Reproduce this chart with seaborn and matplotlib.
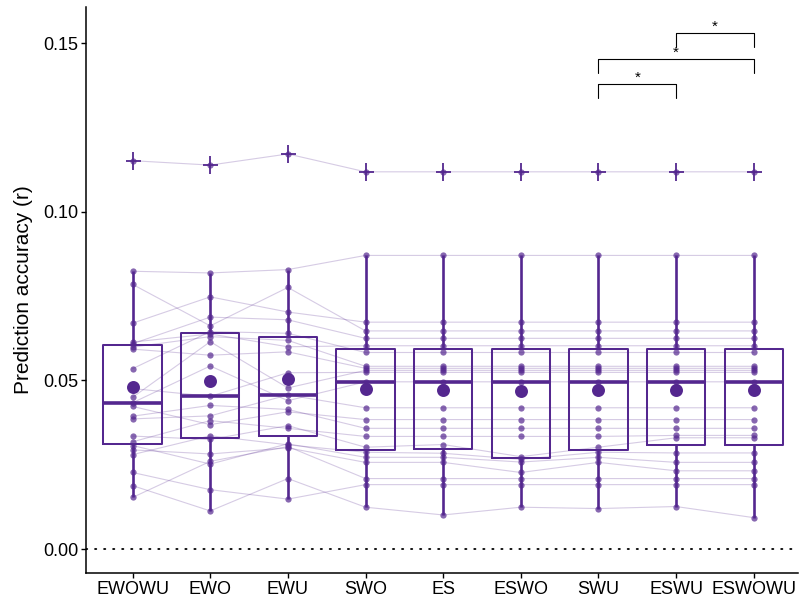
import numpy as np
import pandas as pd
import matplotlib
matplotlib.use("Agg")
import matplotlib.pyplot as plt
from matplotlib.path import Path
from matplotlib.ticker import FormatStrFormatter
import seaborn as sns

conditions = ["EWOWU", "EWO", "EWU", "SWO", "ES", "ESWO", "SWU", "ESWU", "ESWOWU"]

# per-subject prediction accuracies (same subject order in every list)
acc_EWOWU = [0.1152, 0.0824, 0.0670, 0.0785, 0.0609, 0.0614, 0.0535, 0.0599, 0.0593, 0.0450, 0.0476, 0.0434,
             0.0386, 0.0423, 0.0394, 0.0318, 0.0335, 0.0280, 0.0307, 0.0294, 0.0153, 0.0227, 0.0188]
acc_EWO = [0.1139, 0.0819, 0.0748, 0.0662, 0.0688, 0.0638, 0.0645, 0.0630, 0.0575, 0.0615, 0.0453, 0.0543,
           0.0395, 0.0369, 0.0426, 0.0381, 0.0325, 0.0336, 0.0252, 0.0282, 0.0260, 0.0176, 0.0113]
acc_EWU = [0.1172, 0.0829, 0.0703, 0.0776, 0.0680, 0.0600, 0.0640, 0.0619, 0.0585, 0.0478, 0.0523, 0.0440,
           0.0457, 0.0407, 0.0414, 0.0358, 0.0366, 0.0309, 0.0312, 0.0300, 0.0304, 0.0148, 0.0209]
acc_SWO = [0.1119, 0.0871, 0.0673, 0.0647, 0.0625, 0.0603, 0.0583, 0.0542, 0.0536, 0.0530, 0.0524, 0.0496,
           0.0419, 0.0384, 0.0358, 0.0334, 0.0302, 0.0287, 0.0272, 0.0257, 0.0209, 0.0191, 0.0124]
acc_ES = [0.1119, 0.0871, 0.0673, 0.0647, 0.0625, 0.0603, 0.0583, 0.0542, 0.0536, 0.0530, 0.0524, 0.0496,
          0.0419, 0.0384, 0.0358, 0.0334, 0.0310, 0.0284, 0.0272, 0.0257, 0.0209, 0.0191, 0.0101]
acc_ESWO = [0.1119, 0.0871, 0.0673, 0.0647, 0.0625, 0.0603, 0.0583, 0.0542, 0.0536, 0.0530, 0.0524, 0.0496,
            0.0419, 0.0384, 0.0358, 0.0334, 0.0274, 0.0266, 0.0258, 0.0227, 0.0209, 0.0191, 0.0124]
acc_SWU = [0.1119, 0.0871, 0.0673, 0.0647, 0.0625, 0.0603, 0.0583, 0.0542, 0.0536, 0.0530, 0.0524, 0.0496,
           0.0419, 0.0384, 0.0358, 0.0334, 0.0302, 0.0287, 0.0272, 0.0257, 0.0209, 0.0191, 0.0120]
acc_ESWU = [0.1119, 0.0871, 0.0673, 0.0647, 0.0625, 0.0603, 0.0583, 0.0542, 0.0536, 0.0530, 0.0524, 0.0496,
            0.0419, 0.0384, 0.0358, 0.0337, 0.0330, 0.0285, 0.0257, 0.0232, 0.0209, 0.0191, 0.0126]
acc_ESWOWU = [0.1119, 0.0871, 0.0673, 0.0647, 0.0625, 0.0603, 0.0583, 0.0542, 0.0536, 0.0530, 0.0524, 0.0496,
              0.0419, 0.0384, 0.0358, 0.0337, 0.0330, 0.0285, 0.0257, 0.0232, 0.0209, 0.0191, 0.0093]

# significance comparisons
sig_pairs = [("SWU", "ESWU"), ("SWU", "ESWOWU"), ("ESWU", "ESWOWU")]
sig_levels = [0.1381, 0.1455, 0.1532]
sig_labels = ["*", "*", "*"]

all_acc = [acc_EWOWU, acc_EWO, acc_EWU, acc_SWO, acc_ES, acc_ESWO, acc_SWU, acc_ESWU, acc_ESWOWU]
rows = []
for cond, vals in zip(conditions, all_acc):
    for s, v in enumerate(vals):
        rows.append({"condition": cond, "subject": s, "acc": v})
df = pd.DataFrame(rows)

purple = "#54278F"

sns.set_theme(style="ticks")
plt.rcParams["font.family"] = ["Liberation Sans", "DejaVu Sans"]

fig = plt.figure(figsize=(8.0, 6.03), dpi=100)
ax = fig.add_axes([86 / 800, 30 / 603, 712 / 800, 566 / 603])

plus = Path([(-0.4, 0), (0.4, 0), (0, -0.5), (0, 0.5)],
            [Path.MOVETO, Path.LINETO, Path.MOVETO, Path.LINETO])

sns.boxplot(data=df, x="condition", y="acc", order=conditions, ax=ax,
            fill=False, color=purple, width=0.75, whis=1.5, linewidth=1.45,
            showcaps=False,
            whiskerprops=dict(linewidth=1.9, color=purple),
            medianprops=dict(linewidth=2.6, color=purple),
            flierprops=dict(marker=plus, markersize=13.5, markeredgewidth=1.3,
                            markeredgecolor=purple, markerfacecolor="none"),
            zorder=2)

sns.lineplot(data=df, x="condition", y="acc", units="subject", estimator=None,
             color=purple, alpha=0.24, linewidth=0.8, ax=ax, zorder=1, legend=False)

sns.stripplot(data=df, x="condition", y="acc", order=conditions, ax=ax,
              jitter=False, color=purple, alpha=0.7, size=4.5, linewidth=0, zorder=3)

sns.pointplot(data=df, x="condition", y="acc", order=conditions, ax=ax,
              estimator="mean", errorbar=None, linestyle="none", markers="o",
              color=purple, markersize=7.3, zorder=4)

ax.axhline(0, color="black", linestyle=(0, (0.7, 4.3)), linewidth=1.3,
           dash_capstyle="round", zorder=0)

# significance brackets
tick_len = 0.0042
for (a, b), lvl, lab in zip(sig_pairs, sig_levels, sig_labels):
    xa, xb = conditions.index(a), conditions.index(b)
    ax.plot([xa, xa, xb, xb], [lvl - tick_len, lvl, lvl, lvl - tick_len],
            color="black", linewidth=0.8, zorder=5)
    ax.text((xa + xb) / 2, lvl - 0.0004, lab, ha="center", va="bottom",
            fontsize=11, color="black")

ax.set_xlim(-0.6, 8.57)
ax.set_ylim(-0.00712, 0.1608)
ax.set_yticks([0.0, 0.05, 0.10, 0.15])
ax.yaxis.set_major_formatter(FormatStrFormatter("%.2f"))
ax.set_xlabel("")
ax.set_ylabel("Prediction accuracy (r)", fontsize=15, color="black", labelpad=7)
ax.tick_params(axis="both", labelsize=13, colors="black", length=3.5, width=1.0, pad=2)
for sp in ["top", "right"]:
    ax.spines[sp].set_visible(False)
for sp in ["left", "bottom"]:
    ax.spines[sp].set_color("black")
    ax.spines[sp].set_linewidth(1.1)

fig.savefig("out.png", dpi=100)
